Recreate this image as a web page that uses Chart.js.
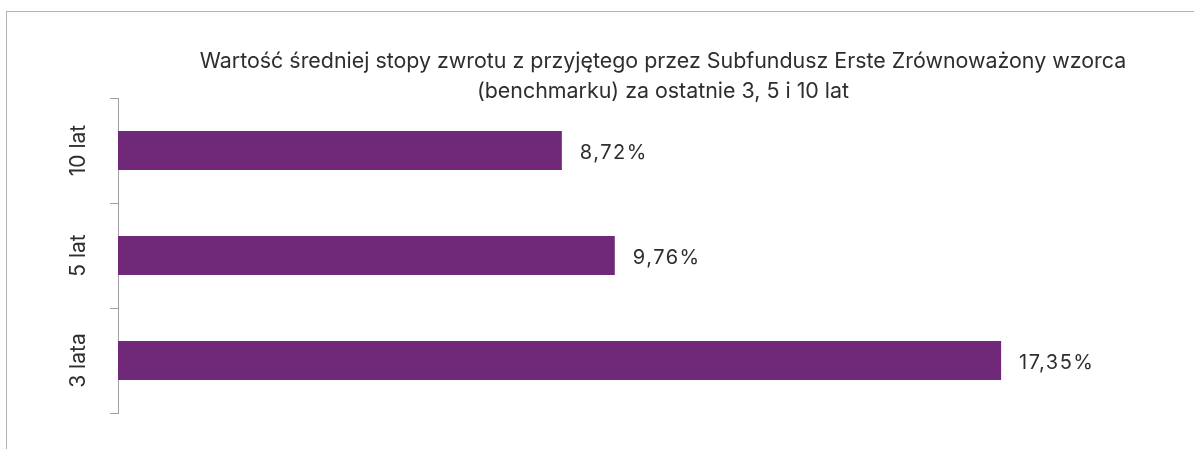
<!DOCTYPE html>
<html lang="pl">
<head>
    <meta charset="UTF-8">
    <title>Średnia stopa zwrotu benchmarku</title>
    <script src="https://cdn.jsdelivr.net/npm/chart.js"></script>
</head>
<style>
    body {
        margin: 0;
        background: #ffffff;
        width: 1194px;
        height: 449px;
        overflow: hidden;
        position: relative;
    }
    .frame {
        position: absolute;
        left: 6px;
        top: 11px;
        width: 1300px;
        height: 500px;
        border-left: 1px solid #b3b3b3;
        border-top: 1px solid #b3b3b3;
    }
    #returnsChart {
        position: absolute;
        left: 7px;
        top: 12px;
    }
</style>
<body>
    <div class="frame"></div>
    <canvas id="returnsChart" width="1187" height="437"></canvas>
    <script>
        // dane
        const titleLines = [
            'Wartość średniej stopy zwrotu z przyjętego przez Subfundusz Erste Zrównoważony wzorca',
            '(benchmarku) za ostatnie 3, 5 i 10 lat'
        ];
        const periods = ['10 lat', '5 lat', '3 lata'];
        const returns = [8.72, 9.76, 17.35];

        const textColor = '#2e2e2e';
        const axisColor = '#a0a0a0';

        function fmtPct(v) {
            return v.toFixed(2).replace('.', ',') + '%';
        }

        // title + rotated category labels + value labels
        const labelsPlugin = {
            id: 'labelsPlugin',
            afterDraw(chart) {
                const ctx = chart.ctx;
                const yScale = chart.scales.y;
                ctx.save();
                ctx.fillStyle = textColor;

                // title
                ctx.font = '21.4px Inter';
                ctx.textAlign = 'center';
                ctx.textBaseline = 'alphabetic';
                ctx.fillText(titleLines[0], 656, 56);
                ctx.fillText(titleLines[1], 656, 86);

                // y labels, rotated
                ctx.font = '21px Inter';
                periods.forEach((p, i) => {
                    const y = yScale.getPixelForTick(i);
                    ctx.save();
                    ctx.translate(78, y);
                    ctx.rotate(-Math.PI / 2);
                    ctx.textAlign = 'center';
                    ctx.fillText(p, 0, 0);
                    ctx.restore();
                });

                // value labels
                ctx.font = '20px Inter';
                ctx.letterSpacing = '1.5px';
                ctx.textAlign = 'left';
                ctx.textBaseline = 'middle';
                chart.getDatasetMeta(0).data.forEach((bar, i) => {
                    ctx.fillText(fmtPct(returns[i]), bar.x + 18, bar.y + 2);
                });
                ctx.restore();
            }
        };

        const ctx = document.getElementById('returnsChart').getContext('2d');
        const returnsChart = new Chart(ctx, {
            type: 'bar',
            data: {
                labels: periods,
                datasets: [{
                    data: returns,
                    backgroundColor: '#6f2978',
                    barPercentage: 0.37,
                    categoryPercentage: 1.0
                }]
            },
            options: {
                indexAxis: 'y',
                responsive: false,
                animation: false,
                layout: {
                    padding: { left: 103, right: 58, top: 86, bottom: 36 }
                },
                plugins: {
                    legend: { display: false },
                    tooltip: { enabled: false }
                },
                scales: {
                    x: {
                        display: false,
                        min: 0,
                        max: 20
                    },
                    y: {
                        ticks: { display: false },
                        grid: {
                            drawOnChartArea: false,
                            drawTicks: true,
                            tickLength: 8,
                            color: axisColor,
                            offset: true
                        },
                        border: { display: true, color: axisColor, width: 1 }
                    }
                }
            },
            plugins: [labelsPlugin]
        });
    </script>
</body>
</html>
